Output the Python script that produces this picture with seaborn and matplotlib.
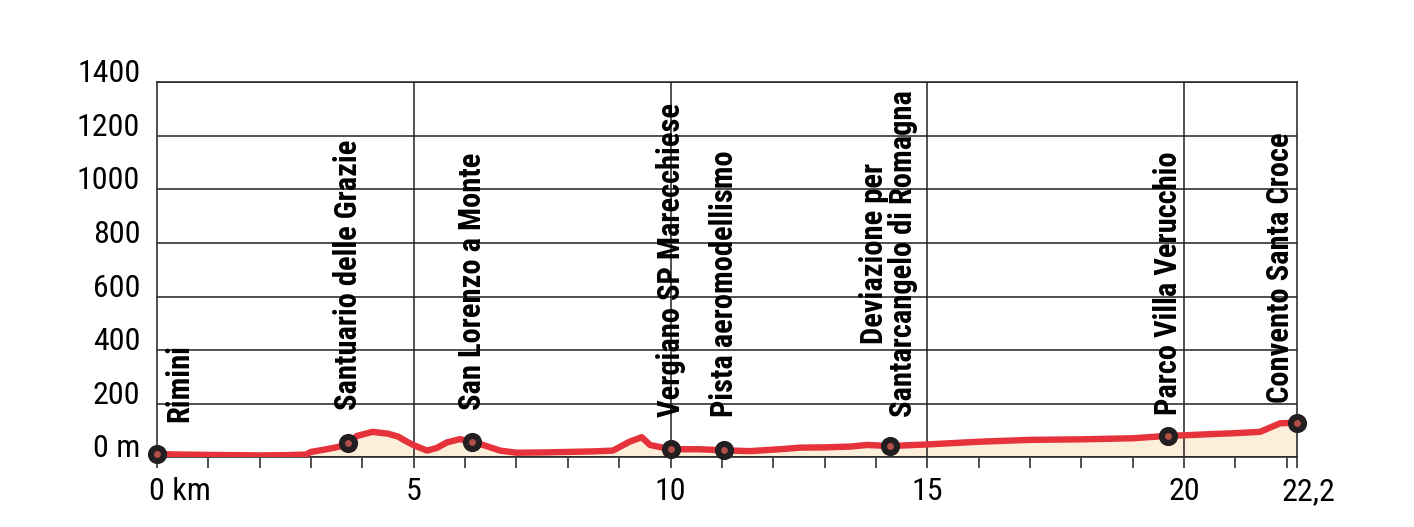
import numpy as np
import matplotlib
matplotlib.use("Agg")
import matplotlib.pyplot as plt
import matplotlib.transforms as mtransforms
from matplotlib import font_manager as fm
import seaborn as sns

LINE_COLOR = "#e5323b"
FILL_COLOR = "#fcefd9"
GRID_COLOR = "#231f20"
DOT_COLOR = "#b44f48"

# elevation profile (km, m)
profile_km = [0, 0.5, 1.0, 1.5, 2.0, 2.5, 2.9, 3.0, 3.3, 3.56, 3.72, 3.9, 4.2, 4.5,
              4.7, 4.85, 5.0, 5.26, 5.45, 5.64, 5.9, 6.14, 6.35, 6.68, 7.0, 7.5, 8.0,
              8.5, 8.88, 9.2, 9.44, 9.6, 10.0, 10.57, 11.04, 11.55, 12.2, 12.52, 13.0,
              13.5, 13.83, 14.28, 15.0, 16.0, 17.0, 18.0, 19.0, 19.68, 20.0, 20.57,
              21.0, 21.48, 21.87, 22.2]
profile_elev = [12, 10, 9, 8, 7, 8, 10, 20, 30, 40, 55, 80, 95, 88,
                77, 60, 45, 25, 35, 55, 68, 56, 46, 25, 17, 18, 20,
                22, 25, 58, 75, 46, 30, 30, 26, 23, 31, 36, 37,
                40, 46, 42, 48, 58, 65, 67, 71, 80, 82, 87,
                90, 95, 127, 129]

# waypoints
stop_names = ["Rimini", "Santuario delle Grazie", "San Lorenzo a Monte",
              "Vergiano SP Marecchiese", "Pista aeromodellismo",
              "Deviazione per\nSantarcangelo di Romagna", "Parco Villa Verucchio",
              "Convento Santa Croce"]
stop_km = [0, 3.72, 6.14, 10.0, 11.04, 14.28, 19.68, 22.2]
stop_elev = [12, 55, 56, 30, 26, 42, 80, 129]

y_ticks = [0, 200, 400, 600, 800, 1000, 1200, 1400]
y_labels = ["0 m", "200", "400", "600", "800", "1000", "1200", "1400"]
x_ticks = [0, 5, 10, 15, 20, 22.2]
x_labels = ["0 km", "5", "10", "15", "20", "22,2"]

# label placement (km centre, elevation where the text starts)
label_x = [0.43, 3.72, 6.14, 10.0, 11.04, 14.24, 19.68, 21.87]
label_base = [132, 176, 176, 151, 151, 151, 157, 203]


def narrow_font(bold):
    # look for a condensed sans face, the original uses a condensed font
    order = ["Liberation Sans Narrow", "Roboto Condensed", "Open Sans Condensed",
             "Noto Sans Condensed", "DejaVu Sans Condensed", "Noto Sans",
             "Open Sans", "Roboto", "DejaVu Sans", "Lato", "Inter"]
    target = 700 if bold else 400
    best = None
    for f in fm.fontManager.ttflist:
        narrow = (f.stretch in ("condensed", "semi-condensed") or
                  "Narrow" in f.name or "Condensed" in f.name)
        if not narrow or f.style != "normal":
            continue
        w = f.weight if isinstance(f.weight, int) else fm.weight_dict.get(f.weight, 400)
        rank = order.index(f.name) if f.name in order else len(order)
        key = (rank, abs(w - target))
        if best is None or key < best[0]:
            best = (key, f)
    if best is None:
        return None
    return best[1].fname


sns.set_theme(style="white")
plt.rcParams["font.family"] = ["DejaVu Sans"]

reg_file = narrow_font(False)
bold_file = narrow_font(True)
if reg_file:
    tick_fp = fm.FontProperties(fname=reg_file, size=23)
    label_fp = fm.FontProperties(fname=bold_file, size=22)
else:
    tick_fp = fm.FontProperties(family="DejaVu Sans", size=17)
    label_fp = fm.FontProperties(family="DejaVu Sans", weight="bold", size=15.5)

fig = plt.figure(figsize=(14.14, 5.27), dpi=100)
ax = fig.add_axes([0.111, 0.1323, 0.8063, 0.7115])

ax.fill_between(profile_km, profile_elev, 0, color=FILL_COLOR, lw=0, zorder=1)
sns.lineplot(x=profile_km, y=profile_elev, ax=ax, color=LINE_COLOR, lw=4.6,
             sort=False, zorder=3)
sns.scatterplot(x=stop_km, y=stop_elev, ax=ax, s=88, color=DOT_COLOR,
                edgecolor=GRID_COLOR, linewidth=4.4, zorder=5, clip_on=False)

ax.set_xlim(0, 22.2)
ax.set_ylim(0, 1400)

# grid
for yv in y_ticks:
    ax.axhline(yv, color=GRID_COLOR, lw=1.1, zorder=2)
for xv in [5, 10, 15, 20]:
    ax.axvline(xv, color=GRID_COLOR, lw=1.1, zorder=2)
for sp in ax.spines.values():
    sp.set_color(GRID_COLOR)
    sp.set_linewidth(1.1)

ax.set_yticks(y_ticks)
ax.set_yticklabels(y_labels)
ax.tick_params(axis="y", length=0, pad=12)
for lab in ax.get_yticklabels():
    lab.set_va("baseline")
    lab.set_fontproperties(tick_fp)
    lab.set_color("black")

ax.set_xticks(x_ticks)
ax.set_xticklabels(x_labels)
ax.set_xticks(np.arange(1, 23), minor=True)
ax.tick_params(axis="x", which="both", direction="out", length=8, width=1.1,
               color=GRID_COLOR, bottom=True, pad=6)
xl = ax.get_xticklabels()
for lab in xl:
    lab.set_fontproperties(tick_fp)
    lab.set_color("black")
xl[0].set_ha("left")
xl[0].set_transform(xl[0].get_transform() +
                    mtransforms.ScaledTranslation(-6 / 72, 0, fig.dpi_scale_trans))
xl[-1].set_transform(xl[-1].get_transform() +
                     mtransforms.ScaledTranslation(8 / 72, 0, fig.dpi_scale_trans))
ax.set_xlabel("")
ax.set_ylabel("")

for name, lx, ly in zip(stop_names, label_x, label_base):
    ax.text(lx, ly, name, rotation=90, ha="center", va="bottom",
            fontproperties=label_fp, color="black", linespacing=0.95)

fig.savefig("out.png", dpi=100)
